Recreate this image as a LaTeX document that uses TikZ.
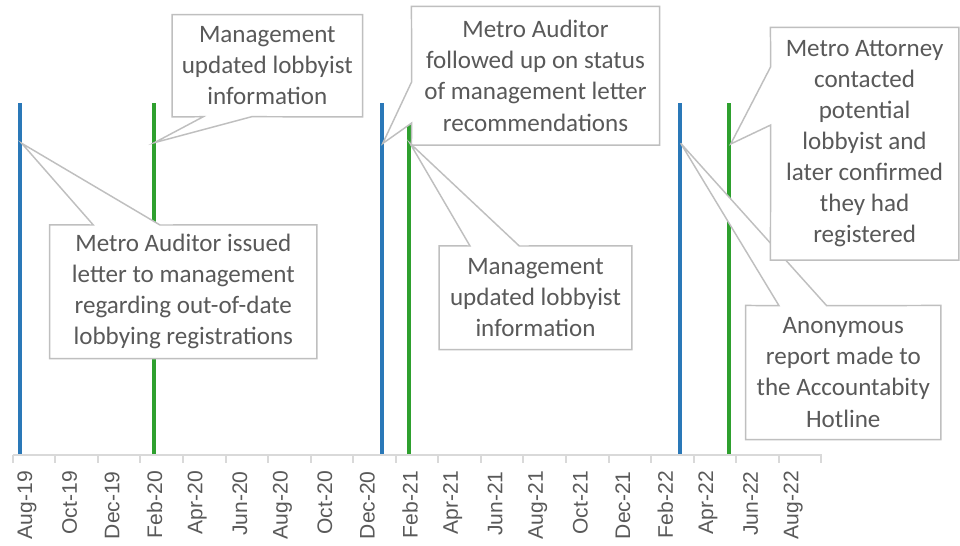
\documentclass[tikz,border=0pt]{standalone}
\usepackage{fontspec}
\setmainfont{Carlito}
\newfontfamily\tickfont{Liberation Sans}
\usepackage{tikz}
\definecolor{barblue}{HTML}{2A78B8}
\definecolor{bargreen}{HTML}{2EA02E}
\definecolor{boxgray}{HTML}{BFBFBF}
\definecolor{axisgray}{HTML}{D9D9D9}
\definecolor{txtgray}{HTML}{595959}
\tikzset{
  bluebar/.style={draw=barblue, line width=3pt},
  greenbar/.style={draw=bargreen, line width=3pt},
  axisline/.style={draw=axisgray, line width=1.5pt},
  notebox/.style={fill=white, text=txtgray, align=center, inner sep=0pt,
    font=\fontsize{18.8}{23.3}\selectfont},
  noteedge/.style={draw=boxgray, line width=1.1pt, line join=miter},
  ticklabel/.style={rotate=90, anchor=east, inner sep=0pt, text=txtgray,
    font=\tickfont\fontsize{15.8}{18}\selectfont}
}

\begin{document}
\begin{tikzpicture}[x=0.75pt,y=-0.75pt]
  \useasboundingbox (0,0) rectangle (960,546);
  % event bars
  \draw[bluebar] (20,103) -- (20,455);     % letter issued
  \draw[greenbar] (154,103) -- (154,455);  % info updated
  \draw[bluebar] (382,103) -- (382,455);   % follow up
  \draw[greenbar] (409,103) -- (409,455);  % info updated
  \draw[bluebar] (680,103) -- (680,455);   % hotline report
  \draw[greenbar] (729,103) -- (729,455);  % attorney contact
  % date axis
  \draw[axisline] (12.7,455) -- (821.7,455);
  \foreach \k in {0,...,19}
    \draw[axisline] (12.7+42.56*\k,455) -- ++(0,8);
  \foreach \m [count=\k from 0] in {Aug-19,Oct-19,Dec-19,Feb-20,Apr-20,Jun-20,Aug-20,Oct-20,Dec-20,Feb-21,Apr-21,Jun-21,Aug-21,Oct-21,Dec-21,Feb-22,Apr-22,Jun-22,Aug-22}
    \node[ticklabel] (lbl\k) at (27+42.56*\k,471) {\m};
  % pointer tips on the bars
  \coordinate (tipB) at (21.7,143.3);
  \coordinate (tipA) at (154.3,142.7);
  \coordinate (tipC) at (382.7,143.5);
  \coordinate (tipD) at (410,143.3);
  \coordinate (tipF) at (680.7,143.3);
  \coordinate (tipE) at (730.7,144);
  % callout: letter issued
  \node[notebox, minimum width=200pt, minimum height=100pt] (issued) at (183.3,291.7)
    {Metro Auditor issued\\letter to management\\regarding out-of-date\\lobbying registrations};
  \fill[white] (93.3,225) -- (tipB) -- (160,225) -- cycle;
  \draw[noteedge] (issued.north west) -- (93.3,225) -- (tipB) -- (160,225) -- (issued.north east)
    -- (issued.south east) -- (issued.south west) -- cycle;
  % callout: first update
  \node[notebox, minimum width=142.5pt, minimum height=76.3pt] (update1) at (267.3,65.8)
    {Management\\updated lobbyist\\information};
  \fill[white] (203.3,116.7) -- (tipA) -- (251.7,116.7) -- cycle;
  \draw[noteedge] (update1.south west) -- (203.3,116.7) -- (tipA) -- (251.7,116.7) -- (update1.south east)
    -- (update1.north east) -- (update1.north west) -- cycle;
  % callout: follow up
  \node[notebox, minimum width=185.7pt, minimum height=103.7pt] (followup) at (535.5,75.8)
    {Metro Auditor\\followed up on status\\of management letter\\recommendations};
  \fill[white] (411.7,81.7) -- (tipC) -- (411.7,123) -- cycle;
  \draw[noteedge] (followup.north west) -- (411.7,81.7) -- (tipC) -- (411.7,123) -- (followup.south west)
    -- (followup.south east) -- (followup.north east) -- cycle;
  % callout: second update
  \node[notebox, minimum width=144.3pt, minimum height=77.5pt] (update2) at (535.5,297.7)
    {Management\\updated lobbyist\\information};
  \fill[white] (470,246) -- (tipD) -- (519.3,246) -- cycle;
  \draw[noteedge] (update2.north west) -- (470,246) -- (tipD) -- (519.3,246) -- (update2.north east)
    -- (update2.south east) -- (update2.south west) -- cycle;
  % callout: hotline
  \node[notebox, minimum width=146pt, minimum height=100.2pt] (hotline) at (843.3,372.5)
    {Anonymous\\report made to\\the Accountabity\\Hotline};
  \fill[white] (779,305.7) -- (tipF) -- (826.7,305.7) -- cycle;
  \draw[noteedge] (hotline.north west) -- (779,305.7) -- (tipF) -- (826.7,305.7) -- (hotline.north east)
    -- (hotline.south east) -- (hotline.south west) -- cycle;
  % callout: attorney
  \node[notebox, minimum width=140.9pt, minimum height=174.2pt] (attorney) at (864.6,143.8)
    {Metro Attorney\\contacted\\potential\\lobbyist and\\later confirmed\\they had\\registered};
  \fill[white] (770.7,66.7) -- (tipE) -- (770.7,125) -- cycle;
  \draw[noteedge] (attorney.north west) -- (770.7,66.7) -- (tipE) -- (770.7,125) -- (attorney.south west)
    -- (attorney.south east) -- (attorney.north east) -- cycle;
\end{tikzpicture}
\end{document}
